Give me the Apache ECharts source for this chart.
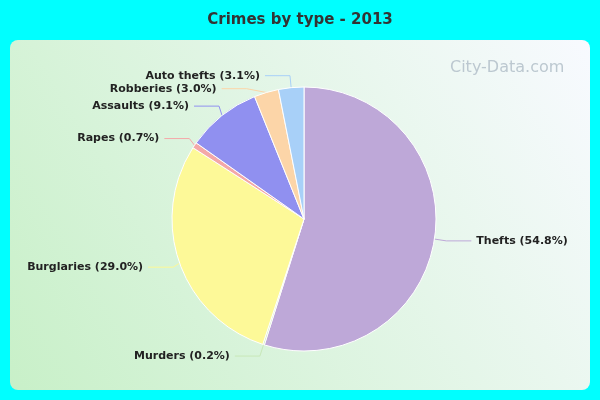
<!DOCTYPE html>
<html><head><meta charset="utf-8">
<script src="https://cdn.jsdelivr.net/npm/echarts@6/dist/echarts.min.js"></script>
<style>html,body{margin:0;padding:0;background:#00ffff}#c{width:600px;height:400px}</style>
</head><body><div id="c"></div>
<script>
const categories=["Thefts","Murders","Burglaries","Rapes","Assaults","Robberies","Auto thefts"];
const values=[54.8,0.2,29.0,0.7,9.1,3.0,3.1];
const colors=["#bea8d8","#c8e8b8","#fdf998","#f4a8a8","#9090f0","#fcd5a8","#a8d0f8"];
const chart=echarts.init(document.getElementById('c'));
chart.setOption({
  backgroundColor:'#00ffff',
  title:{text:'Crimes by type - 2013',left:'center',top:8,textStyle:{fontFamily:'DejaVu Sans',fontSize:15,fontWeight:'bold',color:'#333'}},
  graphic:[
    {type:'rect',z:-1,shape:{x:10,y:40,width:580,height:350,r:8},style:{fill:new echarts.graphic.LinearGradient(0,1,1,0,[{offset:0,color:'#c8f0c8'},{offset:1,color:'#f8faff'}])}},
    {type:'text',left:450,top:60,style:{text:'City-Data.com',font:'16px DejaVu Sans',fill:'#bcc8d0'}}
  ],
  series:[{
    type:'pie',center:[304,219],radius:132,startAngle:90,clockwise:true,
    itemStyle:{borderColor:'#fff',borderWidth:1},
    label:{formatter:p=>p.name+' ('+p.value.toFixed(1)+'%)',fontSize:11,fontWeight:'bold',fontFamily:'DejaVu Sans',color:'#222'},
    labelLine:{length:12,length2:25,lineStyle:{width:1}},
    data:categories.map((c,i)=>({name:c,value:values[i],itemStyle:{color:colors[i]}}))
  }]
});
</script></body></html>
